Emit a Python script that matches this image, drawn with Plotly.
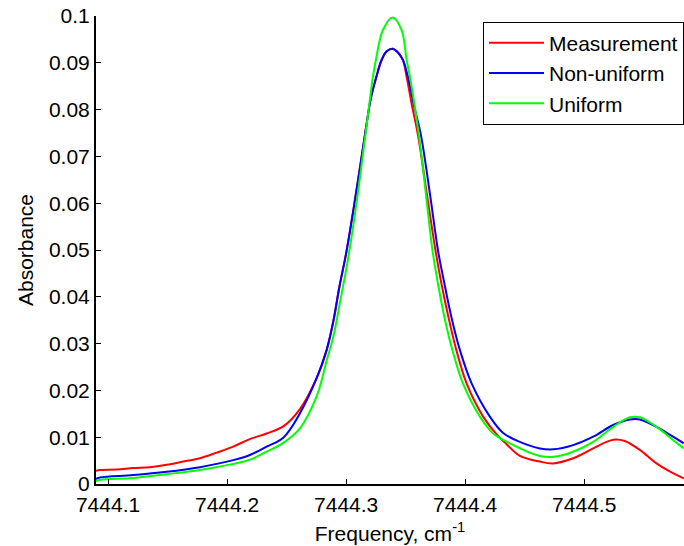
import plotly.graph_objects as go

# Measurement (red)
freq_meas = [7444.089, 7444.0933, 7444.1073, 7444.1212, 7444.1353, 7444.1493, 7444.1632,
             7444.1772, 7444.1913, 7444.2052, 7444.2192, 7444.2332, 7444.2472, 7444.2612,
             7444.2752, 7444.2836, 7444.2892, 7444.2944, 7444.2998, 7444.3070, 7444.3158,
             7444.3208, 7444.3254, 7444.3298, 7444.3343, 7444.3390, 7444.3435, 7444.3477,
             7444.3508, 7444.3552, 7444.3603, 7444.3678, 7444.3750, 7444.3800, 7444.3859,
             7444.3926, 7444.4012, 7444.4151, 7444.4264, 7444.4348, 7444.4459, 7444.4627,
             7444.4739, 7444.4907, 7444.5075, 7444.5187, 7444.5257, 7444.5341, 7444.5467,
             7444.5607, 7444.5746, 7444.5836]
abs_meas = [0.0028, 0.0030, 0.0031, 0.0034, 0.0036, 0.0041, 0.0048,
            0.0055, 0.0067, 0.0080, 0.0096, 0.0108, 0.0123, 0.0160,
            0.0226, 0.0286, 0.0347, 0.0422, 0.0490, 0.0600, 0.0746,
            0.0825, 0.0870, 0.0906, 0.0925, 0.0930, 0.0922, 0.0906,
            0.0870, 0.0810, 0.0746, 0.0620, 0.0500, 0.0429, 0.0357,
            0.0286, 0.0215, 0.0144, 0.0106, 0.0085, 0.0060, 0.0048,
            0.0044, 0.0055, 0.0076, 0.0090, 0.0095, 0.0092, 0.0073,
            0.0044, 0.0023, 0.0012]

# Non-uniform model (blue)
freq_nonuni = [7444.089, 7444.0933, 7444.1212, 7444.1493, 7444.1772, 7444.2052, 7444.2192,
               7444.2332, 7444.2472, 7444.2612, 7444.2752, 7444.2836, 7444.2892, 7444.2944,
               7444.2998, 7444.3070, 7444.3158, 7444.3208, 7444.3254, 7444.3298, 7444.3343,
               7444.3390, 7444.3435, 7444.3477, 7444.3519, 7444.3569, 7444.3628, 7444.3704,
               7444.3771, 7444.3825, 7444.3884, 7444.3956, 7444.4054, 7444.4207, 7444.4319,
               7444.4459, 7444.4627, 7444.4739, 7444.4907, 7444.5075, 7444.5243, 7444.5383,
               7444.5467, 7444.5607, 7444.5746, 7444.5836]
abs_nonuni = [0.0010, 0.0014, 0.0019, 0.0026, 0.0036, 0.0051, 0.0062,
              0.0080, 0.0099, 0.0151, 0.0226, 0.0286, 0.0347, 0.0422,
              0.0490, 0.0600, 0.0746, 0.0825, 0.0870, 0.0906, 0.0925,
              0.0930, 0.0922, 0.0906, 0.0870, 0.0810, 0.0746, 0.0620,
              0.0500, 0.0429, 0.0357, 0.0286, 0.0215, 0.0144, 0.0109,
              0.0090, 0.0076, 0.0074, 0.0083, 0.0101, 0.0126, 0.0138,
              0.0138, 0.0122, 0.0101, 0.0087]

# Uniform model (green)
freq_uni = [7444.089, 7444.0933, 7444.1212, 7444.1493, 7444.1772, 7444.2052, 7444.2192,
            7444.2332, 7444.2472, 7444.2612, 7444.2752, 7444.2838, 7444.2893, 7444.2952,
            7444.3015, 7444.3087, 7444.3162, 7444.3225, 7444.3250, 7444.3309, 7444.3390,
            7444.3466, 7444.3508, 7444.3536, 7444.3611, 7444.3670, 7444.3725, 7444.3771,
            7444.3825, 7444.3893, 7444.3981, 7444.4124, 7444.4236, 7444.4375, 7444.4627,
            7444.4739, 7444.4907, 7444.5075, 7444.5243, 7444.5383, 7444.5467, 7444.5607,
            7444.5746, 7444.5836]
abs_uni = [0.0005, 0.0009, 0.0013, 0.0021, 0.0030, 0.0043, 0.0052,
           0.0069, 0.0088, 0.0119, 0.0187, 0.0265, 0.0315, 0.0393,
           0.0479, 0.0600, 0.0746, 0.0870, 0.0906, 0.0970, 0.0997,
           0.0970, 0.0906, 0.0870, 0.0746, 0.0620, 0.0500, 0.0429,
           0.0357, 0.0286, 0.0215, 0.0144, 0.0108, 0.0087, 0.0060,
           0.0058, 0.0069, 0.0090, 0.0122, 0.01425, 0.01425, 0.0122,
           0.0094, 0.0076]

x_ticks = [7444.1, 7444.2, 7444.3, 7444.4, 7444.5]
x_ticklabels = ["7444.1", "7444.2", "7444.3", "7444.4", "7444.5"]
y_ticks = [0, 0.01, 0.02, 0.03, 0.04, 0.05, 0.06, 0.07, 0.08, 0.09, 0.1]
y_ticklabels = ["0", "0.01", "0.02", "0.03", "0.04", "0.05", "0.06", "0.07", "0.08", "0.09", "0.1"]

FONT = "Liberation Sans, Arial, sans-serif"

fig = go.Figure()
for name, xs, ys, col in [("Measurement", freq_meas, abs_meas, "#FF0000"),
                          ("Non-uniform", freq_nonuni, abs_nonuni, "#0000FF"),
                          ("Uniform", freq_uni, abs_uni, "#00FF00")]:
    fig.add_trace(go.Scatter(x=xs, y=ys, mode="lines", name=name,
                             line=dict(color=col, width=2, shape="spline", smoothing=1.0)))

fig.update_layout(
    width=684, height=546,
    margin=dict(l=96, r=0, t=16, b=62),
    paper_bgcolor="white", plot_bgcolor="white",
    font=dict(family=FONT, size=21, color="black"),
    showlegend=True,
    legend=dict(x=1.0, y=0.988, xanchor="right", yanchor="top",
                bgcolor="white", bordercolor="black", borderwidth=1,
                font=dict(family=FONT, size=21, color="black"),
                tracegroupgap=0, itemwidth=55),
    xaxis=dict(range=[7444.0899, 7444.5838], tickmode="array", tickvals=x_ticks,
               ticktext=x_ticklabels, ticks="inside", ticklen=5, tickwidth=1,
               tickcolor="black", showline=True, linecolor="black", linewidth=2,
               mirror=False, showgrid=False, zeroline=False, ticklabelstandoff=1,
               title=dict(text="Frequency, cm<sup>-1</sup>", font=dict(size=21), standoff=11)),
    yaxis=dict(range=[0, 0.1], tickmode="array", tickvals=y_ticks,
               ticktext=y_ticklabels, ticks="inside", ticklen=5, tickwidth=1,
               tickcolor="black", showline=True, linecolor="black", linewidth=2,
               mirror=False, showgrid=False, zeroline=False,
               title=dict(text="Absorbance", font=dict(size=21), standoff=10)),
)

fig.write_html("out.html")
